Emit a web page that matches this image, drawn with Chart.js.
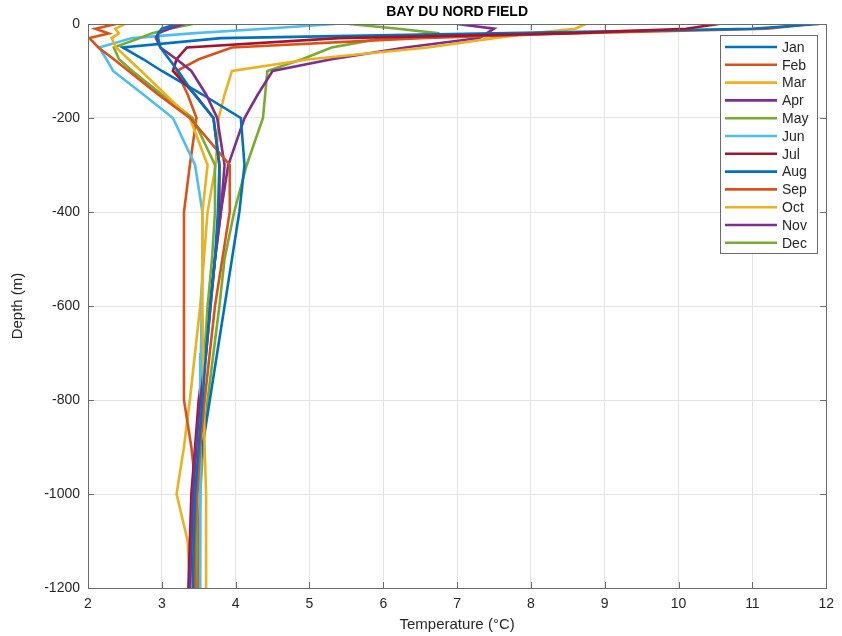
<!DOCTYPE html>
<html>
<head>
<meta charset="utf-8">
<script src="https://cdn.jsdelivr.net/npm/chart.js@4/dist/chart.umd.min.js"></script>
<style>
  html, body { margin: 0; padding: 0; background: #fff; }
  canvas { display: block; }
</style>
</head>
<body>
<canvas id="chart" width="842" height="636"></canvas>
<script>
// Depth levels (m), positive downwards
var depths = [0, 10, 20, 30, 50, 75, 100, 150, 200, 300, 400, 500, 600, 700, 800, 900, 1000, 1100, 1200];

var months = ['Jan', 'Feb', 'Mar', 'Apr', 'May', 'Jun', 'Jul', 'Aug', 'Sep', 'Oct', 'Nov', 'Dec'];

// Temperature (deg C) at each depth level
var janTemp = [3.20, 3.00, 2.95, 2.95, 2.98, 3.10, 3.22, 3.44, 3.70, 3.78, 3.76, 3.72, 3.66, 3.60, 3.55, 3.50, 3.45, 3.43, 3.42];
var febTemp = [2.38, 2.10, 2.28, 2.02, 2.14, 2.35, 2.55, 2.95, 3.38, 3.92, 3.92, 3.82, 3.72, 3.65, 3.58, 3.52, 3.48, 3.45, 3.45];
var marTemp = [2.50, 2.37, 2.42, 2.32, 2.38, 2.55, 2.72, 3.05, 3.38, 3.62, 3.55, 3.55, 3.55, 3.56, 3.57, 3.58, 3.60, 3.60, 3.60];
var aprTemp = [3.30, 3.10, 2.95, 2.92, 2.98, 3.20, 3.40, 3.60, 3.75, 3.85, 3.80, 3.72, 3.66, 3.60, 3.52, 3.46, 3.42, 3.40, 3.38];
var mayTemp = [3.42, 3.10, 2.86, 2.70, 2.35, 2.42, 2.60, 3.00, 3.42, 3.72, 3.72, 3.68, 3.62, 3.58, 3.54, 3.50, 3.48, 3.47, 3.46];
var junTemp = [5.34, 4.40, 3.40, 2.60, 2.15, 2.25, 2.34, 2.75, 3.15, 3.45, 3.55, 3.55, 3.54, 3.53, 3.52, 3.52, 3.52, 3.52, 3.52];
var julTemp = [10.54, 10.10, 8.50, 5.40, 3.34, 3.20, 3.15, 3.45, 3.70, 3.78, 3.78, 3.72, 3.65, 3.58, 3.50, 3.45, 3.40, 3.38, 3.36];
var augTemp = [11.90, 11.00, 7.50, 3.80, 2.47, 2.75, 3.00, 3.55, 4.07, 4.12, 4.05, 3.95, 3.85, 3.75, 3.65, 3.55, 3.47, 3.45, 3.43];
var sepTemp = [11.80, 11.20, 8.50, 6.50, 3.95, 3.50, 3.20, 3.35, 3.47, 3.38, 3.30, 3.30, 3.30, 3.30, 3.30, 3.40, 3.47, 3.50, 3.50];
var octTemp = [8.74, 8.60, 8.00, 7.50, 6.60, 5.00, 3.95, 3.85, 3.77, 3.73, 3.62, 3.57, 3.52, 3.45, 3.38, 3.30, 3.20, 3.35, 3.38];
var novTemp = [7.00, 7.50, 7.40, 7.30, 6.30, 5.30, 4.50, 4.30, 4.12, 3.90, 3.80, 3.72, 3.65, 3.58, 3.52, 3.47, 3.42, 3.40, 3.38];
var decTemp = [5.54, 6.20, 6.76, 6.00, 5.30, 4.90, 4.43, 4.40, 4.37, 4.15, 3.98, 3.85, 3.78, 3.70, 3.62, 3.56, 3.52, 3.50, 3.48];

var profiles = [janTemp, febTemp, marTemp, aprTemp, mayTemp, junTemp, julTemp, augTemp, sepTemp, octTemp, novTemp, decTemp];

var xTicks = [2, 3, 4, 5, 6, 7, 8, 9, 10, 11, 12];
var yTicks = [0, -200, -400, -600, -800, -1000, -1200];

// MATLAB default line order (repeats after 7)
var COLORS = ['#0072BD', '#D95319', '#EDB120', '#7E2F8E', '#77AC30', '#4DBEEE', '#A2142F'];

var FONT = "'Liberation Sans', Arial, Helvetica, sans-serif";
var AXIS_COLOR = '#262626';

var datasets = months.map(function (m, i) {
    return {
        label: m,
        data: profiles[i].map(function (t, k) { return { x: t, y: -depths[k] }; }),
        showLine: true,
        borderColor: COLORS[i % COLORS.length],
        backgroundColor: COLORS[i % COLORS.length],
        borderWidth: 2.6,
        pointRadius: 0,
        tension: 0,
        fill: false
    };
});

// Box, inward ticks, title and legend drawn MATLAB style
var matlabDecor = {
    id: 'matlabDecor',
    afterDraw: function (chart) {
        var ctx = chart.ctx;
        var a = chart.chartArea;
        var sx = chart.scales.x, sy = chart.scales.y;
        ctx.save();

        // axes box
        ctx.strokeStyle = '#6b6b6b';
        ctx.lineWidth = 1;
        ctx.strokeRect(Math.round(a.left) + 0.5, Math.round(a.top) + 0.5,
            Math.round(a.right - a.left), Math.round(a.bottom - a.top));

        // inward ticks on all four sides
        ctx.beginPath();
        xTicks.forEach(function (v) {
            var px = Math.round(sx.getPixelForValue(v)) + 0.5;
            ctx.moveTo(px, a.bottom); ctx.lineTo(px, a.bottom - 6);
            ctx.moveTo(px, a.top); ctx.lineTo(px, a.top + 6);
        });
        yTicks.forEach(function (v) {
            var py = Math.round(sy.getPixelForValue(v)) + 0.5;
            ctx.moveTo(a.left, py); ctx.lineTo(a.left + 6, py);
            ctx.moveTo(a.right, py); ctx.lineTo(a.right - 6, py);
        });
        ctx.stroke();

        // title
        ctx.fillStyle = '#000';
        ctx.font = 'bold 14px ' + FONT;
        ctx.textAlign = 'center';
        ctx.textBaseline = 'middle';
        ctx.fillText('BAY DU NORD FIELD', (a.left + a.right) / 2, 12);

        // legend
        var lx = 720, ly = 35, lw = 97, lh = 218;
        ctx.fillStyle = '#fff';
        ctx.fillRect(lx, ly, lw, lh);
        ctx.strokeStyle = '#6b6b6b';
        ctx.lineWidth = 1;
        ctx.strokeRect(lx + 0.5, ly + 0.5, lw, lh);
        ctx.font = '14px ' + FONT;
        ctx.textAlign = 'left';
        chart.data.datasets.forEach(function (ds, i) {
            var y = ly + 12 + i * 17.8;
            ctx.strokeStyle = ds.borderColor;
            ctx.lineWidth = 2.6;
            ctx.beginPath();
            ctx.moveTo(lx + 5, y);
            ctx.lineTo(lx + 57, y);
            ctx.stroke();
            ctx.fillStyle = '#262626';
            ctx.fillText(ds.label, lx + 62, y + 1);
        });
        ctx.restore();
    }
};

new Chart(document.getElementById('chart'), {
    type: 'scatter',
    data: { datasets: datasets },
    options: {
        responsive: false,
        animation: false,
        layout: { padding: { top: 24, right: 13, left: 0, bottom: 0 } },
        plugins: {
            legend: { display: false },
            title: { display: false },
            tooltip: { enabled: false }
        },
        scales: {
            x: {
                type: 'linear',
                min: 2,
                max: 12,
                afterFit: function (scale) { scale.height = 48; },
                afterBuildTicks: function (scale) {
                    scale.ticks = xTicks.map(function (v) { return { value: v }; });
                },
                ticks: {
                    font: { family: FONT, size: 14 },
                    color: AXIS_COLOR,
                    padding: 8,
                    maxRotation: 0,
                    callback: function (v) { return String(v); }
                },
                grid: { color: '#e3e3e3', drawTicks: false },
                border: { display: false },
                title: {
                    display: true,
                    text: 'Temperature (°C)',
                    font: { family: FONT, size: 15 },
                    color: AXIS_COLOR,
                    padding: { top: 0, bottom: 2 }
                }
            },
            y: {
                type: 'linear',
                min: -1200,
                max: 0,
                afterFit: function (scale) { scale.width = 88; },
                afterBuildTicks: function (scale) {
                    scale.ticks = yTicks.map(function (v) { return { value: v }; });
                },
                ticks: {
                    font: { family: FONT, size: 14 },
                    color: AXIS_COLOR,
                    padding: 8,
                    callback: function (v) { return String(v); }
                },
                grid: { color: '#e3e3e3', drawTicks: false },
                border: { display: false },
                title: {
                    display: true,
                    text: 'Depth (m)',
                    font: { family: FONT, size: 15 },
                    color: AXIS_COLOR,
                    padding: { top: 9, bottom: 0 }
                }
            }
        }
    },
    plugins: [matlabDecor]
});
</script>
</body>
</html>
